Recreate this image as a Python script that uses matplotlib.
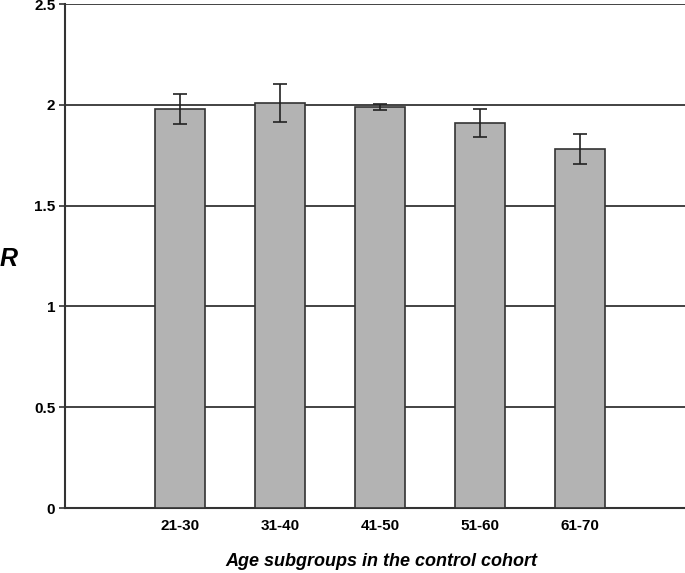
import matplotlib.pyplot as plt
import numpy as np

# Data
groups = ['21-30', '31-40', '41-50', '51-60', '61-70']
r_mean = [1.98, 2.01, 1.99, 1.91, 1.78]
r_err = [0.075, 0.095, 0.015, 0.068, 0.076]
yticks = [0, 0.5, 1, 1.5, 2, 2.5]
ytick_labels = ['0', '0.5', '1', '1.5', '2', '2.5']

plt.rcParams['font.family'] = ['Liberation Sans', 'DejaVu Sans']

fig = plt.figure(figsize=(6.85, 5.73), dpi=100)
ax = fig.add_axes([65 / 685, 65 / 573, 620 / 685, 504 / 573])

x = np.arange(len(groups))
ax.bar(x, r_mean, width=0.5, color='#b3b3b3', edgecolor='#333333',
       linewidth=1.2, zorder=3)
ax.errorbar(x, r_mean, yerr=r_err, fmt='none', ecolor='#222222',
            elinewidth=1.2, capsize=5, capthick=1.2, zorder=4)

ax.set_xlim(-1.15, 5.05)
ax.set_ylim(0, 2.5)
ax.set_yticks(yticks)
ax.set_yticklabels(ytick_labels, fontsize=11, fontweight='bold')
ax.set_xticks(x)
ax.set_xticklabels(groups, fontsize=11, fontweight='bold')
ax.tick_params(axis='x', length=0, pad=8)
ax.tick_params(axis='y', length=4, width=1.2, color='#333333', pad=3)

ax.grid(axis='y', color='#222222', linewidth=1.2, zorder=0)
for s in ['top', 'right']:
    ax.spines[s].set_visible(False)
for s in ['left', 'bottom']:
    ax.spines[s].set_color('#333333')
    ax.spines[s].set_linewidth(1.5)

fig.text(381 / 685, 1 - 562 / 573, 'Age subgroups in the control cohort',
         fontsize=13, fontweight='bold', fontstyle='italic',
         ha='center', va='center')
fig.text(9 / 685, 1 - 259 / 573, 'R', fontsize=18, fontweight='bold',
         fontstyle='italic', ha='center', va='center')

plt.savefig('out.png', dpi=100)
